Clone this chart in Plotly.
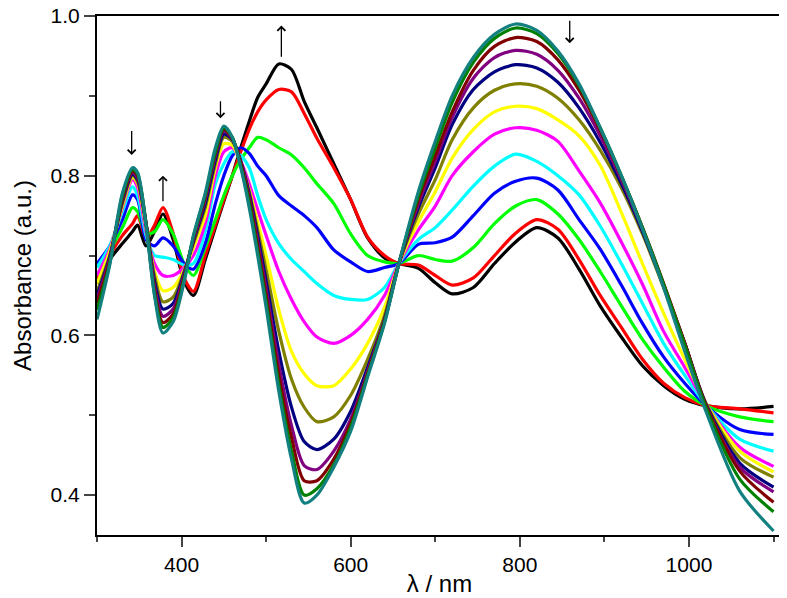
import plotly.graph_objects as go

wavelength = [300, 315, 330, 342, 348, 358, 368, 378, 390, 403, 414, 428, 440, 450, 460, 470, 480, 490, 500, 515,
              530, 545, 560, 580, 600, 620, 640, 657,
              680, 700, 720, 745, 770, 795, 820, 845, 870, 895, 920, 945, 970, 995, 1020, 1060, 1100]

black = [0.665, 0.695, 0.715, 0.730, 0.738, 0.712, 0.730, 0.752, 0.720, 0.668, 0.650, 0.695, 0.735, 0.768, 0.800, 0.835, 0.868, 0.898, 0.915, 0.940,
         0.933, 0.893, 0.860, 0.815, 0.770, 0.722, 0.697, 0.690,
         0.684, 0.666, 0.652, 0.660, 0.690, 0.717, 0.735, 0.722, 0.683, 0.637, 0.598, 0.562, 0.537, 0.520, 0.512, 0.508, 0.511]
red = [0.670, 0.700, 0.725, 0.740, 0.750, 0.722, 0.738, 0.760, 0.728, 0.672, 0.655, 0.700, 0.738, 0.770, 0.800, 0.830, 0.858, 0.880, 0.895, 0.908,
       0.905, 0.878, 0.847, 0.810, 0.770, 0.723, 0.700, 0.690,
       0.688, 0.675, 0.663, 0.672, 0.700, 0.728, 0.745, 0.733, 0.695, 0.650, 0.610, 0.570, 0.540, 0.522, 0.512, 0.508, 0.503]
green = [0.675, 0.705, 0.735, 0.760, 0.755, 0.727, 0.730, 0.745, 0.727, 0.690, 0.675, 0.710, 0.745, 0.775, 0.800, 0.820, 0.835, 0.848, 0.845, 0.835,
         0.826, 0.810, 0.790, 0.765, 0.727, 0.700, 0.692, 0.690,
         0.700, 0.695, 0.693, 0.710, 0.740, 0.762, 0.770, 0.752, 0.720, 0.680, 0.637, 0.595, 0.560, 0.530, 0.512, 0.498, 0.492]
blue = [0.690, 0.712, 0.745, 0.776, 0.770, 0.720, 0.712, 0.722, 0.712, 0.690, 0.683, 0.715, 0.765, 0.800, 0.825, 0.835, 0.828, 0.812, 0.800, 0.775,
        0.762, 0.750, 0.735, 0.707, 0.692, 0.680, 0.685, 0.690,
        0.714, 0.716, 0.723, 0.750, 0.778, 0.793, 0.797, 0.782, 0.745, 0.708, 0.663, 0.615, 0.573, 0.540, 0.512, 0.482, 0.476]
cyan = [0.685, 0.712, 0.755, 0.786, 0.775, 0.725, 0.700, 0.698, 0.695, 0.688, 0.690, 0.730, 0.790, 0.815, 0.830, 0.825, 0.810, 0.775, 0.745, 0.715,
        0.695, 0.680, 0.665, 0.650, 0.645, 0.645, 0.660, 0.690,
        0.720, 0.735, 0.757, 0.787, 0.812, 0.827, 0.818, 0.800, 0.776, 0.737, 0.690, 0.640, 0.590, 0.550, 0.513, 0.470, 0.455]
magenta = [0.675, 0.708, 0.760, 0.795, 0.785, 0.730, 0.690, 0.675, 0.675, 0.685, 0.700, 0.740, 0.800, 0.830, 0.835, 0.818, 0.790, 0.757, 0.725, 0.680,
           0.645, 0.617, 0.598, 0.590, 0.600, 0.620, 0.650, 0.690,
           0.732, 0.762, 0.800, 0.830, 0.852, 0.860, 0.857, 0.843, 0.806, 0.766, 0.717, 0.664, 0.605, 0.560, 0.514, 0.460, 0.436]
yellow = [0.665, 0.705, 0.762, 0.798, 0.790, 0.735, 0.680, 0.656, 0.660, 0.682, 0.710, 0.750, 0.810, 0.840, 0.838, 0.815, 0.782, 0.742, 0.700, 0.632,
          0.580, 0.552, 0.537, 0.537, 0.558, 0.590, 0.635, 0.690,
          0.742, 0.780, 0.822, 0.858, 0.880, 0.887, 0.884, 0.870, 0.850, 0.813, 0.754, 0.690, 0.628, 0.570, 0.515, 0.455, 0.429]
olive = [0.655, 0.700, 0.765, 0.800, 0.792, 0.738, 0.675, 0.642, 0.648, 0.680, 0.715, 0.760, 0.815, 0.848, 0.843, 0.818, 0.780, 0.732, 0.682, 0.605,
         0.545, 0.510, 0.492, 0.498, 0.525, 0.570, 0.625, 0.690,
         0.752, 0.795, 0.845, 0.885, 0.907, 0.915, 0.912, 0.897, 0.870, 0.832, 0.785, 0.727, 0.660, 0.590, 0.515, 0.447, 0.4225]
navy = [0.650, 0.698, 0.768, 0.802, 0.795, 0.740, 0.668, 0.633, 0.640, 0.678, 0.718, 0.765, 0.820, 0.852, 0.845, 0.818, 0.777, 0.725, 0.668, 0.580,
        0.510, 0.467, 0.457, 0.470, 0.505, 0.560, 0.620, 0.690,
        0.760, 0.810, 0.864, 0.908, 0.930, 0.939, 0.935, 0.917, 0.885, 0.842, 0.790, 0.730, 0.662, 0.590, 0.514, 0.440, 0.410]
purple = [0.645, 0.696, 0.770, 0.804, 0.797, 0.740, 0.662, 0.624, 0.633, 0.676, 0.720, 0.770, 0.825, 0.856, 0.846, 0.817, 0.773, 0.718, 0.658, 0.563,
          0.487, 0.437, 0.432, 0.455, 0.495, 0.555, 0.620, 0.690,
          0.765, 0.818, 0.873, 0.922, 0.948, 0.957, 0.952, 0.932, 0.897, 0.850, 0.795, 0.733, 0.664, 0.590, 0.513, 0.435, 0.404]
maroon = [0.640, 0.693, 0.772, 0.806, 0.800, 0.740, 0.657, 0.616, 0.627, 0.673, 0.722, 0.773, 0.828, 0.858, 0.847, 0.815, 0.770, 0.712, 0.650, 0.550,
          0.472, 0.418, 0.418, 0.445, 0.490, 0.552, 0.618, 0.690,
          0.770, 0.825, 0.880, 0.932, 0.962, 0.973, 0.968, 0.945, 0.907, 0.857, 0.799, 0.735, 0.665, 0.590, 0.512, 0.430, 0.391]
darkgreen = [0.632, 0.690, 0.775, 0.808, 0.802, 0.740, 0.652, 0.610, 0.622, 0.670, 0.724, 0.776, 0.830, 0.860, 0.848, 0.812, 0.765, 0.705, 0.642, 0.538,
             0.455, 0.400, 0.408, 0.438, 0.485, 0.550, 0.617, 0.690,
             0.775, 0.835, 0.892, 0.942, 0.972, 0.985, 0.978, 0.953, 0.913, 0.860, 0.800, 0.735, 0.664, 0.588, 0.510, 0.420, 0.379]
teal = [0.620, 0.688, 0.778, 0.810, 0.804, 0.737, 0.650, 0.603, 0.617, 0.667, 0.725, 0.778, 0.835, 0.862, 0.848, 0.810, 0.760, 0.700, 0.635, 0.530,
        0.445, 0.390, 0.400, 0.435, 0.480, 0.548, 0.615, 0.690,
        0.780, 0.843, 0.900, 0.948, 0.977, 0.990, 0.982, 0.956, 0.915, 0.860, 0.800, 0.733, 0.660, 0.580, 0.505, 0.405, 0.355]

series = [black, red, green, blue, cyan, magenta, yellow, olive, navy, purple, maroon, darkgreen, teal]
colors = ["#000000", "#FF0000", "#00FF00", "#0000FF", "#00FFFF", "#FF00FF", "#FFFF00",
          "#808000", "#000080", "#800080", "#800000", "#008000", "#138080"]

x_ticks = [400, 600, 800, 1000]
y_ticks = [0.4, 0.6, 0.8, 1.0]
y_tick_text = ["0.4", "0.6", "0.8", "1.0"]

# arrows: (x_head, y_head, x_tail, y_tail)
arrows = [(341, 0.826, 341, 0.858), (378, 0.800, 378, 0.766), (446, 0.872, 446, 0.895),
          (518, 0.988, 518, 0.947), (859, 0.966, 859, 0.996)]

fig = go.Figure()
for ys, c in zip(series, colors):
    fig.add_trace(go.Scatter(x=wavelength, y=ys, mode="lines",
                             line=dict(color=c, width=3.2, shape="spline", smoothing=0.8),
                             showlegend=False, hoverinfo="skip"))

for xh, yh, xt, yt in arrows:
    fig.add_annotation(x=xh, y=yh, ax=xt, ay=yt, xref="x", yref="y", axref="x", ayref="y",
                       text="", showarrow=True, arrowhead=4, arrowsize=1.2, arrowwidth=1.3,
                       arrowcolor="black")

font = "Arial, Liberation Sans, sans-serif"
fig.update_layout(
    width=779, height=590,
    margin=dict(l=89, r=5, t=8, b=63, autoexpand=False),
    paper_bgcolor="white", plot_bgcolor="white",
    font=dict(family=font, color="black", size=21),
    xaxis=dict(range=[300, 1110], tickmode="array", tickvals=x_ticks, ticks="outside", ticklen=10, tickwidth=1.5,
               automargin=False,
               showline=True, linewidth=2, linecolor="black", mirror=True, showgrid=False, zeroline=False,
               tickfont=dict(size=21), title=dict(text="λ / nm", font=dict(size=24), standoff=0),
               minor=dict(dtick=100, tick0=300, ticks="outside", ticklen=5, tickwidth=1.5, showgrid=False)),
    yaxis=dict(range=[0.35, 1.0], tickmode="array", tickvals=y_ticks, ticktext=y_tick_text,
               ticklabeloverflow="allow", automargin=False,
               ticks="outside", ticklen=11, tickwidth=1.5,
               showline=True, linewidth=2, linecolor="black", mirror=True, showgrid=False, zeroline=False,
               tickfont=dict(size=21), title=dict(text="Absorbance (a.u.)", font=dict(size=24), standoff=12),
               minor=dict(dtick=0.1, tick0=0.4, ticks="outside", ticklen=6, tickwidth=1.5, showgrid=False)),
)

fig.write_html("out.html")
